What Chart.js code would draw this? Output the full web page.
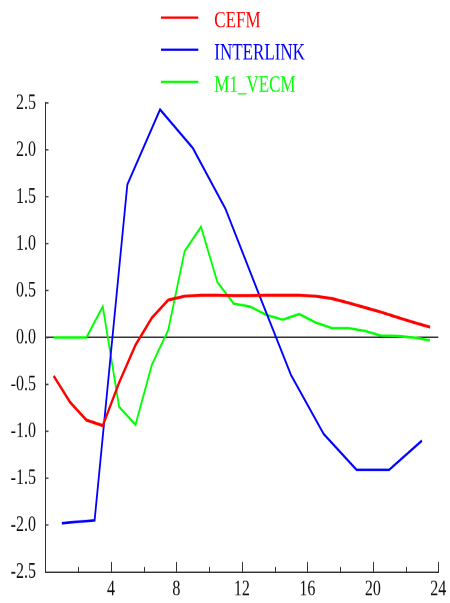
<!DOCTYPE html>
<html>
<head>
<meta charset="utf-8">
<script src="https://cdn.jsdelivr.net/npm/chart.js@4.4.1/dist/chart.umd.min.js"></script>
<style>
	html, body { margin: 0; padding: 0; background: #ffffff; }
</style>
</head>
<body>
<!-- the original figure is stretched vertically: the chart is drawn 431 high and shown 603 high -->
<canvas id="Chart_Irf" width="450" height="431" style="display:block; width:450px; height:603px;"></canvas>
<script>
window.onload = init;

// horizons
const steps_half = [0.5, 1.5, 2.5, 3.5, 4.5, 5.5, 6.5, 7.5, 8.5, 9.5, 10.5, 11.5,
	12.5, 13.5, 14.5, 15.5, 16.5, 17.5, 18.5, 19.5, 20.5, 21.5, 22.5, 23.5];
const steps_odd = [1, 3, 5, 7, 9, 11, 13, 15, 17, 19, 21, 23];

// responses
const cefm_values = [-0.41, -0.69, -0.88, -0.94, -0.48, -0.08, 0.21, 0.40, 0.44, 0.45, 0.45, 0.447,
	0.447, 0.45, 0.45, 0.45, 0.44, 0.415, 0.37, 0.32, 0.27, 0.215, 0.16, 0.11];
const interlink_values = [-1.98, -1.95, 1.63, 2.43, 2.02, 1.37, 0.48, -0.40, -1.03, -1.41, -1.41, -1.10];
const m1_vecm_values = [0, 0, 0, 0.33, -0.74, -0.93, -0.29, 0.08, 0.92, 1.18, 0.59, 0.36,
	0.33, 0.24, 0.19, 0.25, 0.16, 0.10, 0.10, 0.07, 0.02, 0.015, 0.0, -0.03];

const series_names = ['CEFM', 'INTERLINK', 'M1_VECM'];
const series_colors = ['#ff0000', '#0000ff', '#00ff00'];

const x_range = [0, 24];
const y_range = [-2.5, 2.5];

const font_family = "'Liberation Serif', 'Times New Roman', serif";
const axis_color = '#333333';

let chart = null;

function init() {

	const chart_ctx = document.getElementById('Chart_Irf').getContext('2d');

	const chart_data = {
		datasets: [{
			label: series_names[0],
			borderColor: series_colors[0],
			borderWidth: 2.2,
			data: To_Points(steps_half, cefm_values)
		}, {
			label: series_names[1],
			borderColor: series_colors[1],
			borderWidth: 1.8,
			data: To_Points(steps_odd, interlink_values)
		}, {
			label: series_names[2],
			borderColor: series_colors[2],
			borderWidth: 1.8,
			data: To_Points(steps_half, m1_vecm_values)
		}]
	};

	const options = {
		responsive: false,
		animation: false,
		devicePixelRatio: 2,
		layout: {
			padding: { top: 73.6, right: 11.7, left: 0, bottom: 0 }
		},
		elements: {
			point: { radius: 0 },
			line: { tension: 0, fill: false }
		},
		plugins: {
			legend: { display: false },
			tooltip: { enabled: false }
		},
		scales: {
			x: {
				type: 'linear',
				min: x_range[0],
				max: x_range[1],
				afterFit: function(scale) { scale.height = 22.2; },
				grid: { drawOnChartArea: false, drawTicks: false },
				border: { color: axis_color, width: 1 },
				ticks: {
					stepSize: 4,
					padding: 3,
					maxRotation: 0,
					color: '#111111',
					font: { family: font_family, size: 16 },
					callback: function(value) { return value === 0 ? '' : String(value); }
				}
			},
			y: {
				type: 'linear',
				min: y_range[0],
				max: y_range[1],
				afterFit: function(scale) { scale.width = 45.5; },
				grid: {
					drawTicks: false,
					lineWidth: 1,
					color: function(ctx) { return (ctx.tick && ctx.tick.value === 0) ? axis_color : 'rgba(0,0,0,0)'; }
				},
				border: { color: axis_color, width: 1 },
				ticks: {
					stepSize: 0.5,
					padding: 9.5,
					color: '#111111',
					font: { family: font_family, size: 16 },
					callback: function(value) { return value.toFixed(1); }
				}
			}
		}
	};

	const config = {
		type: 'line',
		data: chart_data,
		options: options,
		plugins: [Inner_Ticks, Stacked_Legend]
	};

	chart = new Chart(chart_ctx, config);
}

function To_Points(xs, ys) {
	const points = [];
	let idx = 0;
	while(idx < ys.length) {
		points[idx] = { x: xs[idx], y: ys[idx] };
		idx++;
	}
	return points;
}

//=============================================================================================================================

// tick marks pointing into the plot, minor ticks every 2 steps on x
const Inner_Ticks = {
	id: 'inner_ticks',
	afterDraw: function(c) {
		const ctx = c.ctx;
		const area = c.chartArea;
		const xs = c.scales.x;
		const ys = c.scales.y;

		ctx.save();
		ctx.strokeStyle = axis_color;
		ctx.lineWidth = 1;
		ctx.beginPath();

		for(let v = xs.min + 2; v <= xs.max; v += 2) {
			const px = Math.round(xs.getPixelForValue(v)) + 0.5;
			const len = (v % 4 === 0) ? 7.2 : 3.6;
			ctx.moveTo(px, area.bottom);
			ctx.lineTo(px, area.bottom - len);
		}

		for(let v = ys.min + 0.5; v <= ys.max + 0.001; v += 0.5) {
			const py = ys.getPixelForValue(v);
			ctx.moveTo(area.left, py);
			ctx.lineTo(area.left + 3, py);
		}

		ctx.stroke();
		ctx.restore();
	}
};

// legend drawn as a column of line samples above the plot
const Stacked_Legend = {
	id: 'stacked_legend',
	afterDraw: function(c) {
		const ctx = c.ctx;
		ctx.save();
		ctx.font = `17px ${font_family}`;
		ctx.textBaseline = 'alphabetic';
		ctx.textAlign = 'left';

		c.data.datasets.forEach(function(ds, i) {
			const y = 12.6 + i * 23.0;
			ctx.strokeStyle = ds.borderColor;
			ctx.lineWidth = 1.6;
			ctx.beginPath();
			ctx.moveTo(161, y);
			ctx.lineTo(198.3, y);
			ctx.stroke();

			ctx.fillStyle = ds.borderColor;
			ctx.fillText(ds.label, 214.3, y + 7.1);
		});

		ctx.restore();
	}
};
</script>
</body>
</html>
